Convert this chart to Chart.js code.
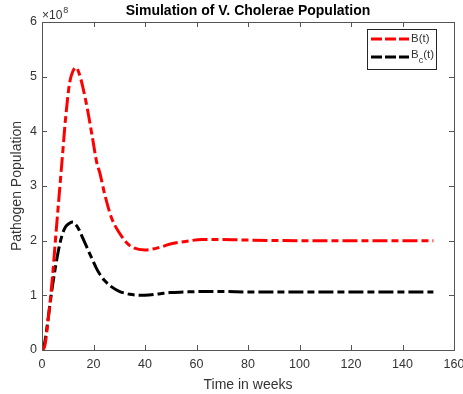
<!DOCTYPE html>
<html>
<head>
<meta charset="utf-8">
<script src="https://cdn.jsdelivr.net/npm/chart.js@4.4.1/dist/chart.umd.min.js"></script>
<style>
  html, body { margin: 0; padding: 0; background: #fff; }
  #wrap { width: 463px; height: 394px; position: relative; }
</style>
</head>
<body>
<div id="wrap"><canvas id="chart"></canvas></div>
<script>
// time axis (weeks) and populations in units of 1e8
const weeks = [0, 1, 2.5, 4, 5.2, 6.5, 7.8, 9.1, 10.7, 12, 13.2, 14.5, 15.8, 17.7, 19.6, 21.3, 22.4,
    24.3, 26.9, 30.2, 34.1, 40, 45.9, 49.8, 55, 62, 70, 80, 100, 120, 140, 152];
const bTotal = [0, 0.06, 0.6, 1.3, 2.0, 2.74, 3.47, 4.21, 4.88, 5.1, 5.17, 5.05, 4.82, 4.39, 3.88, 3.42, 3.25,
    2.86, 2.43, 2.13, 1.91, 1.83, 1.88, 1.94, 1.98, 2.02, 2.02, 2.01, 2.0, 2.0, 2.0, 2.0];
const bCarrier = [0, 0.12, 0.62, 1.15, 1.51, 1.85, 2.1, 2.25, 2.32, 2.34, 2.29, 2.19, 2.05, 1.85, 1.65, 1.48, 1.39,
    1.27, 1.16, 1.07, 1.02, 1.0, 1.03, 1.05, 1.06, 1.07, 1.07, 1.06, 1.06, 1.06, 1.06, 1.06];
const xTicks = [0, 20, 40, 60, 80, 100, 120, 140, 160];
const yTicks = [0, 1, 2, 3, 4, 5, 6];
const seriesNames = ["B(t)", "Bc(t)"];

const FONT = "'Liberation Sans', Arial, Helvetica, sans-serif";
const TXT = "#333333";
const AXIS = "#555555";

const toPoints = (vals) => weeks.map((t, i) => ({ x: t, y: vals[i] }));

// box, inward ticks, title, exponent and legend in MATLAB style
const matlabAxes = {
    id: "matlabAxes",
    afterDatasetsDraw(chart) {
        const { ctx, chartArea: a, scales } = chart;
        ctx.save();
        ctx.strokeStyle = AXIS;
        ctx.lineWidth = 1;
        ctx.setLineDash([]);
        ctx.strokeRect(Math.round(a.left) + 0.5, Math.round(a.top) + 0.5,
            Math.round(a.right - a.left), Math.round(a.bottom - a.top));
        const tl = 5;
        ctx.beginPath();
        xTicks.forEach((v) => {
            const x = Math.round(scales.x.getPixelForValue(v)) + 0.5;
            ctx.moveTo(x, a.bottom); ctx.lineTo(x, a.bottom - tl);
            ctx.moveTo(x, a.top); ctx.lineTo(x, a.top + tl);
        });
        yTicks.forEach((v) => {
            const y = Math.round(scales.y.getPixelForValue(v)) + 0.5;
            ctx.moveTo(a.left, y); ctx.lineTo(a.left + tl, y);
            ctx.moveTo(a.right, y); ctx.lineTo(a.right - tl, y);
        });
        ctx.stroke();

        // title
        ctx.fillStyle = "#000";
        ctx.font = "bold 14px " + FONT;
        ctx.textAlign = "center";
        ctx.textBaseline = "middle";
        ctx.fillText("Simulation of V. Cholerae Population", (a.left + a.right) / 2, 11);

        // exponent
        ctx.fillStyle = TXT;
        ctx.textAlign = "left";
        ctx.textBaseline = "alphabetic";
        ctx.font = "12px " + FONT;
        ctx.fillText("\u00d710", a.left, 19);
        const w = ctx.measureText("\u00d710").width;
        ctx.font = "9px " + FONT;
        ctx.fillText("8", a.left + w + 1, 13);

        // legend
        const bx = 367, by = 29, bw = 69, bh = 40;
        ctx.fillStyle = "#fff";
        ctx.fillRect(bx, by, bw, bh);
        ctx.strokeStyle = "#262626";
        ctx.strokeRect(bx + 0.5, by + 0.5, bw, bh);
        const rows = [
            { y: 39, color: "#ff0000" },
            { y: 57, color: "#000000" },
        ];
        rows.forEach((r) => {
            ctx.strokeStyle = r.color;
            ctx.lineWidth = 3;
            ctx.setLineDash([11, 3]);
            ctx.beginPath();
            ctx.moveTo(371, r.y);
            ctx.lineTo(409, r.y);
            ctx.stroke();
        });
        ctx.setLineDash([]);
        ctx.fillStyle = TXT;
        ctx.font = "11.5px " + FONT;
        ctx.textBaseline = "middle";
        ctx.fillText(seriesNames[0], 411, 39);
        ctx.fillText("B", 411, 55);
        const bw2 = ctx.measureText("B").width;
        ctx.font = "9px " + FONT;
        ctx.fillText(seriesNames[1].slice(1, 2), 411 + bw2, 61);
        const cw = ctx.measureText("c").width;
        ctx.font = "11.5px " + FONT;
        ctx.fillText("(t)", 411 + bw2 + cw, 55);
        ctx.restore();
    },
};

new Chart(document.getElementById("chart"), {
    type: "line",
    data: {
        datasets: [
            {
                label: seriesNames[0],
                data: toPoints(bTotal),
                borderColor: "#ff0000",
                borderWidth: 3,
                borderDash: [15, 4, 7, 4],
                pointRadius: 0,
                cubicInterpolationMode: "monotone",
                fill: false,
            },
            {
                label: seriesNames[1],
                data: toPoints(bCarrier),
                borderColor: "#000000",
                borderWidth: 3,
                borderDash: [15, 4, 7, 4],
                pointRadius: 0,
                cubicInterpolationMode: "monotone",
                fill: false,
            },
        ],
    },
    options: {
        responsive: true,
        maintainAspectRatio: false,
        animation: false,
        layout: { padding: { top: 22, right: 9, left: 0, bottom: 0 } },
        plugins: {
            legend: { display: false },
            tooltip: { enabled: false },
        },
        scales: {
            x: {
                type: "linear",
                min: 0,
                max: 160,
                grid: { display: false, drawTicks: false },
                border: { display: false },
                afterBuildTicks: (s) => { s.ticks = xTicks.map((v) => ({ value: v })); },
                afterFit: (s) => { s.height = 44; s.paddingLeft = 0; s.paddingRight = 0; },
                ticks: { color: TXT, font: { family: FONT, size: 12.5 }, padding: 7, maxRotation: 0 },
                title: {
                    display: true,
                    text: "Time in weeks",
                    color: TXT,
                    font: { family: FONT, size: 14 },
                    padding: { top: 2, bottom: 0 },
                },
            },
            y: {
                min: 0,
                max: 6,
                grid: { display: false, drawTicks: false },
                border: { display: false },
                afterBuildTicks: (s) => { s.ticks = yTicks.map((v) => ({ value: v })); },
                afterFit: (s) => { s.width = 42; },
                ticks: { color: TXT, font: { family: FONT, size: 12.5 }, padding: 5 },
                title: {
                    display: true,
                    text: "Pathogen Population",
                    color: TXT,
                    font: { family: FONT, size: 14 },
                    padding: { top: 9, bottom: 0 },
                },
            },
        },
    },
    plugins: [matlabAxes],
});
</script>
</body>
</html>
